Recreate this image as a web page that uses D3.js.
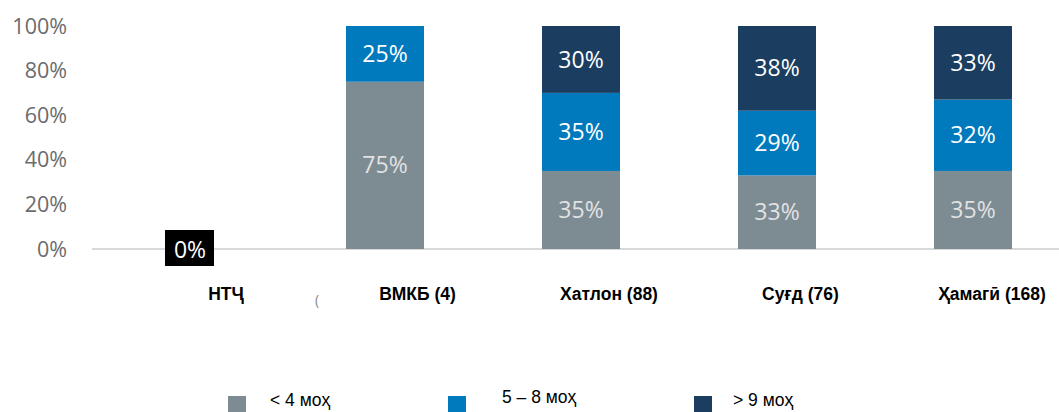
<!DOCTYPE html>
<html lang="tg">
<meta charset="utf-8">
<style>
    html, body { margin: 0; padding: 0; background: #fff; }
    svg { display: block; font-family: "Open Sans", sans-serif; }
    .ytick text { fill: #6b6b6b; font-size: 21.5px; }
    .xlab { font-family: "Liberation Sans", Arial, sans-serif; font-weight: bold; font-size: 17.5px; fill: #000; }
    .seg-label { font-size: 23px; }
    .legend text { font-family: "Liberation Sans", Arial, sans-serif; font-size: 17.5px; fill: #000; }
</style>
<body>
<svg id="svg" width="1059" height="412"></svg>
<script src="https://cdn.jsdelivr.net/npm/d3@7"></script>
<script>
    var categories = ["НТҶ", "ВМКБ (4)", "Хатлон (88)", "Суғд (76)", "Ҳамагӣ (168)"];
    var seriesNames = ["< 4 моҳ", "5 – 8 моҳ", "> 9 моҳ"];
    var lessThan4 = [0, 75, 35, 33, 35];
    var from5to8 = [0, 25, 35, 29, 32];
    var moreThan9 = [0, 0, 30, 38, 33];
    var yTicks = [0, 20, 40, 60, 80, 100];
    var colors = ["#7d8b93", "#0079bd", "#1b3d5f"];
    var labelColors = ["#e2e2e2", "#ffffff", "#ffffff"];

    var svg = d3.select("svg");

    var data = categories.map((c, i) => ({
        name: c,
        v: [lessThan4[i], from5to8[i], moreThan9[i]]
    }));

    // bars are 78 wide, one every 196 px
    var x = d3.scaleBand()
        .domain(categories)
        .range([150, 1012])
        .paddingInner(118 / 196)
        .paddingOuter(0);

    var xLabel = d3.scalePoint()
        .domain(categories)
        .range([226, 992]);

    var y = d3.scaleLinear()
        .domain([0, 100])
        .range([249, 26]);

    // y axis labels
    var yAxis = svg.append("g").attr("class", "ytick");
    yAxis.selectAll("text").data(yTicks).enter().append("text")
        .attr("x", 67)
        .attr("y", d => y(d))
        .attr("dy", "0.35em")
        .attr("text-anchor", "end")
        .text(d => d + "%");

    // baseline
    svg.append("line")
        .attr("x1", 92).attr("x2", 1059)
        .attr("y1", y(0)).attr("y2", y(0))
        .attr("stroke", "#d9d9d9")
        .attr("stroke-width", 2);

    // stacked bars
    var stack = d3.stack().keys([0, 1, 2]).value((d, k) => d.v[k]);
    var layers = stack(data);

    layers.forEach((layer, k) => {
        var g = svg.append("g");
        var segs = layer.filter(d => d[1] - d[0] > 0);
        g.selectAll("rect").data(segs).enter().append("rect")
            .attr("x", d => x(d.data.name))
            .attr("y", d => y(d[1]))
            .attr("width", x.bandwidth())
            .attr("height", d => y(d[0]) - y(d[1]))
            .attr("fill", colors[k]);
        g.selectAll("text").data(segs).enter().append("text")
            .attr("class", "seg-label")
            .attr("x", d => x(d.data.name) + x.bandwidth() / 2)
            .attr("y", d => y((d[0] + d[1]) / 2))
            .attr("dy", "0.35em")
            .attr("text-anchor", "middle")
            .attr("fill", labelColors[k])
            .text(d => (d[1] - d[0]) + "%");
    });

    // zero label for the empty category
    data.filter(d => d3.sum(d.v) === 0).forEach(d => {
        var cx = x(d.name) + x.bandwidth() / 2;
        svg.append("rect")
            .attr("x", cx - 24).attr("y", y(0) - 19)
            .attr("width", 49).attr("height", 36)
            .attr("fill", "#000");
        svg.append("text")
            .attr("class", "seg-label")
            .attr("x", cx + 1).attr("y", y(0) + 1)
            .attr("dy", "0.35em")
            .attr("text-anchor", "middle")
            .attr("fill", "#fff")
            .text("0%");
    });

    // category labels
    svg.append("g").selectAll("text").data(categories).enter().append("text")
        .attr("class", "xlab")
        .attr("x", d => xLabel(d))
        .attr("y", 300)
        .attr("text-anchor", "middle")
        .text(d => d);

    // stray mark from the source
    svg.append("text")
        .attr("x", 315).attr("y", 305)
        .attr("font-size", "14px")
        .attr("fill", "#888")
        .text("(");

    // legend
    var legendX = [228, 448, 694];
    var legendTextX = [270, 502, 733];
    var legendTextY = [406, 403, 406];
    var legend = svg.append("g").attr("class", "legend");
    seriesNames.forEach((s, i) => {
        legend.append("rect")
            .attr("x", legendX[i]).attr("y", 396)
            .attr("width", 18).attr("height", 18)
            .attr("fill", colors[i]);
        legend.append("text")
            .attr("x", legendTextX[i]).attr("y", legendTextY[i])
            .text(s);
    });
</script>
</body>
</html>
